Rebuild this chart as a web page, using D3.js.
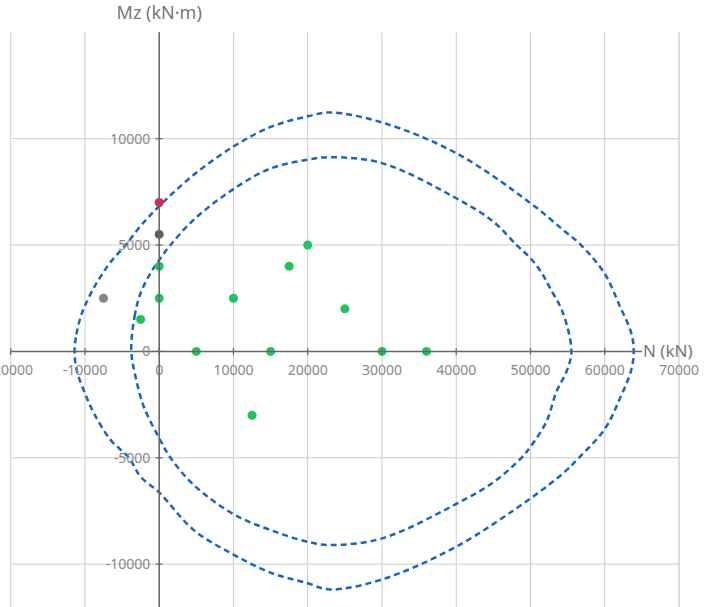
<!DOCTYPE html>
<html>
<head>
<meta charset="utf-8">
<title>N-Mz</title>
<style>
  body { margin: 0; background: #fff; }
  svg { display: block; font-family: "Noto Sans", "Open Sans", sans-serif; }
</style>
</head>
<body>
<svg width="720" height="607"></svg>
<script src="https://d3js.org/d3.v7.min.js"></script>
<script>
// interaction envelopes [N (kN), Mz (kN·m)]
const outerEnvelope = [
  [-11400, 0], [-11150, 800], [-10600, 1600], [-10000, 2150], [-8790, 3000],
  [-7890, 3520], [-6550, 4200], [-4530, 5000], [-2500, 5900], [0, 6830],
  [4650, 8300], [10000, 9630], [15000, 10550], [20000, 11050], [23000, 11230],
  [30000, 10760], [40000, 9320], [50000, 6970], [54390, 5710], [56800, 5000],
  [60000, 3650], [62000, 2150], [63570, 860], [63900, 0],
  [63570, -870], [62000, -2250], [60000, -3650], [56530, -5000], [54390, -5730],
  [50000, -6910], [40000, -9180], [30000, -10720], [23000, -11190], [20000, -10900],
  [15000, -10400], [10000, -9550], [4650, -8400], [0, -6630], [-2510, -5890],
  [-4080, -5000], [-6550, -4160], [-8790, -2910], [-10000, -1970], [-11100, -900]
];
const innerEnvelope = [
  [-3760, 0], [-3320, 1640], [-2510, 2740], [-1170, 3680], [0, 4300],
  [1520, 5000], [4650, 6190], [10000, 7630], [15000, 8600], [20000, 9010],
  [23000, 9130], [30000, 8850], [40000, 7200], [45000, 6100], [48120, 5000],
  [50000, 4380], [51400, 3750], [52600, 3000], [54380, 1800], [55510, 0],
  [54900, -900], [53490, -1900], [52150, -3300], [50000, -4480], [48790, -5000],
  [45000, -6150], [40000, -7170], [30000, -8790],
  [23000, -9100], [20000, -8950], [15000, -8400], [10000, -7650], [4650, -6280],
  [1520, -5000], [0, -4080], [-2070, -2600], [-3190, -1180]
];

// load cases
const greenPoints = [
  [0, 4000], [0, 2500], [-2500, 1500], [5000, 0], [10000, 2500], [15000, 0],
  [17500, 4000], [20000, 5000], [25000, 2000], [30000, 0], [36000, 0], [12500, -3000]
];
const grayPoints = [[-7500, 2500]];
const darkPoints = [[0, 5500]];
const redPoints = [[0, 7000]];

const xTicks = [-20000, -10000, 0, 10000, 20000, 30000, 40000, 50000, 60000, 70000];
const yTicks = [-10000, -5000, 0, 5000, 10000];

const svg = d3.select("svg");
const x = d3.scaleLinear().domain([-20000, 70000]).range([10.7, 679]);
const y = d3.scaleLinear().domain([-15000, 15000]).range([670.5, 32.3]);

// grid
const grid = svg.append("g");
grid.selectAll(".vg").data(xTicks).enter().append("line")
  .attr("x1", d => x(d)).attr("x2", d => x(d))
  .attr("y1", y(15000)).attr("y2", y(-15000))
  .attr("stroke", d => d === 70000 ? "#ddd" : "#ccc")
  .attr("stroke-width", d => d === 70000 ? 2 : 1);
grid.selectAll(".hg").data(yTicks.filter(d => d !== 0)).enter().append("line")
  .attr("x1", x(-20000)).attr("x2", x(70000))
  .attr("y1", d => y(d)).attr("y2", d => y(d))
  .attr("stroke", "#ccc").attr("stroke-width", 1);

// envelopes
const line = d3.line().x(d => x(d[0])).y(d => y(d[1])).curve(d3.curveCatmullRomClosed.alpha(0.5));
[outerEnvelope, innerEnvelope].forEach(env => {
  svg.append("path").attr("d", line(env))
    .attr("fill", "none").attr("stroke", "#1565c8")
    .attr("stroke-width", 2.5).attr("stroke-dasharray", "6,4");
});

// points
function dots(data, color) {
  svg.append("g").selectAll("circle").data(data).enter().append("circle")
    .attr("cx", d => x(d[0])).attr("cy", d => y(d[1])).attr("r", 4.5)
    .attr("fill", color);
}
dots(greenPoints, "#1fc45c");
dots(grayPoints, "#858585");
dots(darkPoints, "#5b625e");
dots(redPoints, "#e8204e");

// axes through origin
const axisColor = "#666";
const ax = svg.append("g");
ax.append("line").attr("x1", x(-20000)).attr("x2", x(65000))
  .attr("y1", y(0)).attr("y2", y(0)).attr("stroke", axisColor).attr("stroke-width", 1.5);
ax.selectAll(".xt").data(xTicks.filter(d => d !== 70000)).enter().append("line")
  .attr("x1", d => x(d)).attr("x2", d => x(d))
  .attr("y1", y(0) - 3.5).attr("y2", y(0) + 3.5)
  .attr("stroke", axisColor).attr("stroke-width", 1.2);
ax.selectAll(".xl").data(xTicks).enter().append("text")
  .attr("x", d => x(d)).attr("y", y(0) + 19)
  .attr("dy", "0.35em").attr("text-anchor", "middle")
  .attr("font-size", 14).attr("fill", "#888")
  .text(d => d);
ax.append("text").attr("x", 643).attr("y", y(0)).attr("dy", "0.35em")
  .attr("font-size", 17).attr("fill", "#777").text("N (kN)");

ax.append("line").attr("x1", x(0)).attr("x2", x(0))
  .attr("y1", y(15000)).attr("y2", y(-15000))
  .attr("stroke", axisColor).attr("stroke-width", 1.5);
ax.selectAll(".yt").data(yTicks).enter().append("line")
  .attr("x1", x(0) - 3.5).attr("x2", x(0) + 3.5)
  .attr("y1", d => y(d)).attr("y2", d => y(d))
  .attr("stroke", axisColor).attr("stroke-width", 1.2);
ax.selectAll(".yl").data(yTicks).enter().append("text")
  .attr("x", x(0) - 9)
  .attr("y", d => y(d)).attr("dy", "0.35em").attr("text-anchor", "end")
  .attr("font-size", 14).attr("fill", "#888")
  .text(d => d);
ax.append("text").attr("x", x(0)).attr("y", 19).attr("text-anchor", "middle")
  .attr("font-size", 18).attr("fill", "#777").text("Mz (kN·m)");
</script>
</body>
</html>
